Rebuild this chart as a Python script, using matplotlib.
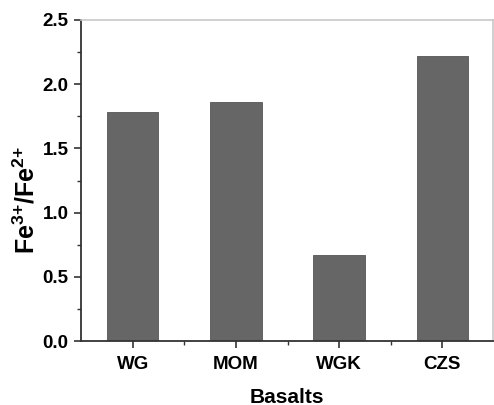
import matplotlib
matplotlib.use("Agg")
import matplotlib.pyplot as plt
from matplotlib.ticker import MultipleLocator, FixedLocator

# данные
basalts = ["WG", "MOM", "WGK", "CZS"]
fe_ratio = [1.78, 1.86, 0.67, 2.22]

plt.rcParams["font.family"] = ["Liberation Sans", "DejaVu Sans"]
plt.rcParams["font.weight"] = "bold"
plt.rcParams["mathtext.fontset"] = "custom"
plt.rcParams["mathtext.rm"] = "Liberation Sans:bold"
plt.rcParams["mathtext.bf"] = "Liberation Sans:bold"

fig = plt.figure(figsize=(4.94, 4.05), dpi=100)
ax = fig.add_axes([81 / 494, 1 - 341 / 405, 412 / 494, 321 / 405])

x = list(range(len(basalts)))
ax.bar(x, fe_ratio, width=0.5, color="#666666", edgecolor="#555555", linewidth=0.6)

ax.set_xlim(-0.5, 3.49)
ax.set_ylim(0, 2.5)
ax.set_xticks(x)
ax.set_xticklabels(basalts)
ax.xaxis.set_minor_locator(FixedLocator([0.5, 1.5, 2.5]))
ax.yaxis.set_major_locator(MultipleLocator(0.5))
ax.yaxis.set_minor_locator(MultipleLocator(0.25))
ax.yaxis.set_major_formatter(matplotlib.ticker.FormatStrFormatter("%.1f"))

ax.tick_params(axis="both", which="major", direction="out", length=5, width=1.2,
               labelsize=13.5, color="#333333")
ax.tick_params(axis="both", which="minor", direction="out", length=3, width=1.0,
               color="#333333")
ax.tick_params(axis="x", pad=6)
ax.tick_params(axis="y", pad=4)

for side in ["left", "bottom"]:
    ax.spines[side].set_color("#333333")
    ax.spines[side].set_linewidth(1.3)
for side in ["top", "right"]:
    ax.spines[side].set_color("#c8c8c8")
    ax.spines[side].set_linewidth(1.2)

ax.set_xlabel("Basalts", fontsize=15, fontweight="bold")
ax.xaxis.set_label_coords(0.5, -0.145)
ax.set_ylabel(r"$\mathbf{Fe^{3{+}}/Fe^{2{+}}}$", fontsize=18)
ax.yaxis.set_label_coords(-0.1, 0.44)

fig.savefig("out.png", dpi=100)
